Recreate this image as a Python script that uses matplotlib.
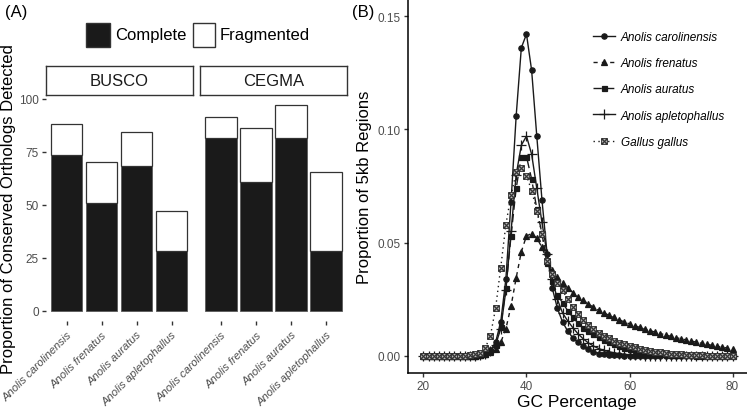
import numpy as np
import matplotlib
matplotlib.use("Agg")
import matplotlib.pyplot as plt
from matplotlib.path import Path
from matplotlib.patches import Rectangle

plt.rcParams["font.family"] = "Liberation Sans"

W, H = 747, 414

# ---------------------------------------------------------------------------
# (A) ortólogos conservados
species = ["Anolis carolinensis", "Anolis frenatus", "Anolis auratus",
           "Anolis apletophallus"]
busco_complete = [73.6, 50.6, 68.4, 28.3]
busco_total = [88.1, 70.0, 84.1, 47.2]
cegma_complete = [81.3, 60.6, 81.3, 28.3]
cegma_total = [91.2, 86.2, 97.0, 65.3]

# (B) distribuição de GC em janelas de 5kb
gc = list(range(20, 81))
carolinensis = [
    0, 0, 0, 0, 0, 0, 0, 0, 0, 0.0001,
    0.0003, 0.0006, 0.0012, 0.0025, 0.006, 0.015, 0.034, 0.068, 0.106, 0.136,
    0.142, 0.126, 0.097, 0.069, 0.045, 0.030, 0.021, 0.015, 0.011, 0.008,
    0.006, 0.0045, 0.0032, 0.0018, 0.0011, 0.0008, 0.0005, 0.0004, 0.0003, 0.0002,
    0.0002, 0.0002, 0.0001, 0.0001, 0.0001, 0.0001, 0, 0, 0, 0,
    0, 0, 0, 0, 0, 0, 0, 0, 0, 0,
    0]
frenatus = [
    0, 0, 0, 0, 0, 0, 0, 0, 0.0001, 0.0001,
    0.0002, 0.0005, 0.001, 0.0018, 0.003, 0.006, 0.012, 0.022, 0.0345, 0.046,
    0.053, 0.054, 0.052, 0.048, 0.042, 0.038, 0.035, 0.032, 0.030, 0.028,
    0.026, 0.0245, 0.023, 0.0215, 0.0202, 0.019, 0.018, 0.017, 0.016, 0.015,
    0.0142, 0.0134, 0.0126, 0.0119, 0.0112, 0.0105, 0.0099, 0.0093, 0.0087, 0.0081,
    0.0076, 0.0071, 0.0066, 0.0061, 0.0056, 0.0052, 0.0047, 0.0043, 0.0039, 0.0035,
    0.003]
auratus = [
    0, 0, 0, 0, 0, 0, 0, 0, 0, 0.0001,
    0.0002, 0.0005, 0.001, 0.002, 0.005, 0.013, 0.030, 0.053, 0.074, 0.088,
    0.088, 0.078, 0.065, 0.054, 0.041, 0.033, 0.027, 0.0235, 0.020, 0.017,
    0.0145, 0.0125, 0.011, 0.0095, 0.0082, 0.007, 0.006, 0.0051, 0.0043, 0.0036,
    0.003, 0.0025, 0.0021, 0.0017, 0.0014, 0.0011, 0.0009, 0.0007, 0.0006, 0.0005,
    0.0004, 0.0003, 0.0003, 0.0002, 0.0002, 0.0001, 0.0001, 0.0001, 0.0001, 0,
    0]
apletophallus = [
    0, 0, 0, 0, 0, 0, 0, 0, 0, 0.0001,
    0.0002, 0.0005, 0.001, 0.002, 0.005, 0.012, 0.029, 0.055, 0.080, 0.093,
    0.097, 0.089, 0.074, 0.059, 0.045, 0.034, 0.025, 0.019, 0.0155, 0.0125,
    0.0098, 0.0076, 0.0058, 0.0044, 0.0033, 0.0025, 0.0019, 0.0014, 0.001, 0.0007,
    0.0005, 0.0004, 0.0003, 0.0002, 0.0002, 0.0001, 0.0001, 0.0001, 0, 0,
    0, 0, 0, 0, 0, 0, 0, 0, 0, 0,
    0]
gallus = [
    0, 0, 0, 0, 0, 0, 0, 0, 0.0002, 0.0004,
    0.0008, 0.0015, 0.0035, 0.009, 0.021, 0.039, 0.058, 0.071, 0.081, 0.083,
    0.0795, 0.073, 0.064, 0.054, 0.042, 0.036, 0.032, 0.029, 0.025, 0.0215,
    0.0185, 0.0158, 0.0135, 0.0118, 0.0102, 0.009, 0.0078, 0.0068, 0.0059, 0.0051,
    0.0044, 0.0038, 0.0032, 0.0027, 0.0023, 0.0019, 0.0016, 0.0013, 0.0011, 0.0009,
    0.0007, 0.0006, 0.0005, 0.0004, 0.0003, 0.0002, 0.0002, 0.0001, 0.0001, 0.0001,
    0]

TXT = "#4d4d4d"
DARK = "#1a1a1a"

fig = plt.figure(figsize=(W / 100, H / 100), dpi=100)


def fax(l, t, r, b):
    """axes em coordenadas de pixel (origem no topo)."""
    return fig.add_axes([l / W, 1 - b / H, (r - l) / W, (b - t) / H])


# ---------------------------------------------------------------------------
# painel A
panels = [("BUSCO", busco_complete, busco_total, 45.7, 192.7),
          ("CEGMA", cegma_complete, cegma_total, 200.0, 347.3)]
for i, (name, comp, tot, l, r) in enumerate(panels):
    ax = fax(l, 95.8, r, 322)
    x = np.arange(1, len(species) + 1)
    comp = np.array(comp)
    frag = np.array(tot) - comp
    ax.bar(x, comp, width=0.9, color=DARK, edgecolor="#5a5a5a", linewidth=0.6)
    ax.bar(x, frag, bottom=comp, width=0.9, color="white",
           edgecolor="#333333", linewidth=0.9)
    ax.set_xlim(0.4, 4.6)
    ax.set_ylim(-4.85, 101.85)
    for s in ax.spines.values():
        s.set_visible(False)
    ax.set_xticks(x)
    ax.set_xticklabels(species, rotation=45, ha="right", va="top",
                       rotation_mode="anchor", style="italic",
                       fontsize=8.1, color=TXT)
    ax.tick_params(axis="x", length=3, width=1, color="#333333", pad=3)
    if i == 0:
        ax.set_yticks([0, 25, 50, 75, 100])
        ax.tick_params(axis="y", length=3, width=1, color="#333333",
                       labelsize=8.5, labelcolor=TXT, pad=2)
    else:
        ax.set_yticks([])
    # strip
    st = fax(l, 66.7, r, 95.7)
    st.set_xticks([]); st.set_yticks([])
    for s in st.spines.values():
        s.set_color("#333333"); s.set_linewidth(1.0)
    st.text(0.5, 0.5, name, ha="center", va="center", fontsize=12,
            color=DARK, transform=st.transAxes)

# legenda do painel A
fig.add_artist(Rectangle((86 / W, 1 - 47.7 / H), 24 / W, 23.7 / H,
                         transform=fig.transFigure, fc=DARK, ec="#333333", lw=1))
fig.text(115 / W, 1 - 36 / H, "Complete", va="center", fontsize=12)
fig.add_artist(Rectangle((192.7 / W, 1 - 47.7 / H), 22.5 / W, 23.7 / H,
                         transform=fig.transFigure, fc="white", ec="#333333", lw=1))
fig.text(220 / W, 1 - 36 / H, "Fragmented", va="center", fontsize=12)

fig.text(5 / W, 1 - 12 / H, "(A)", va="center", fontsize=12)
fig.text(9 / W, 1 - 209 / H, "Proportion of Conserved Orthologs Detected",
         rotation=90, ha="center", va="center", fontsize=12)

# ---------------------------------------------------------------------------
# painel B
crossed = Path([(-1, -1), (1, -1), (1, 1), (-1, 1), (-1, -1),
                (-1, -1), (1, 1), (-1, 1), (1, -1)],
               [Path.MOVETO, Path.LINETO, Path.LINETO, Path.LINETO, Path.CLOSEPOLY,
                Path.MOVETO, Path.LINETO, Path.MOVETO, Path.LINETO])

series = [
    ("Anolis carolinensis", carolinensis, "-", "o", 3.8, DARK, DARK),
    ("Anolis frenatus", frenatus, (0, (3, 3)), "^", 4.5, DARK, DARK),
    ("Anolis auratus", auratus, (0, (6, 3)), "s", 3.6, DARK, DARK),
    ("Anolis apletophallus", apletophallus, "-", "+", 7, DARK, DARK),
    ("Gallus gallus", gallus, (0, (1, 2.5)), crossed, 4, "white", "#333333"),
]

axb = fax(408, 0, 748, 374)
handles = []
for name, y, ls, mk, ms, mfc, mec in series:
    h, = axb.plot(gc, y, linestyle=ls, color=DARK, linewidth=1.0,
                  marker=mk, markersize=ms, markerfacecolor=mfc,
                  markeredgecolor=mec, markeredgewidth=0.9, label=name)
    handles.append(h)

axb.set_xlim(17, 83)
axb.set_ylim(-0.0075, 0.1575)
axb.spines["top"].set_visible(False)
axb.spines["right"].set_visible(False)
for s in ("left", "bottom"):
    axb.spines[s].set_linewidth(1.1)
    axb.spines[s].set_color("black")
axb.set_xticks([20, 40, 60, 80])
axb.set_yticks([0, 0.05, 0.10, 0.15])
axb.set_yticklabels(["0.00", "0.05", "0.10", "0.15"])
axb.tick_params(length=3, width=1, color="#333333", labelsize=8.5,
                labelcolor=TXT, pad=2)

axb.legend(handles=handles, loc="upper left",
           bbox_to_anchor=(593 / W, 1 - 32 / H), bbox_transform=fig.transFigure,
           frameon=False, prop={"style": "italic", "size": 8.5},
           handlelength=1.9, handletextpad=0.45, labelspacing=1.2,
           borderpad=0, borderaxespad=0)

fig.text(352 / W, 1 - 12 / H, "(B)", va="center", fontsize=12)
fig.text(577 / W, 1 - 403 / H, "GC Percentage", ha="center", va="center",
         fontsize=12.5)
fig.text(365 / W, 1 - 187 / H, "Proportion of 5kb Regions", rotation=90,
         ha="center", va="center", fontsize=12)

fig.savefig("out.png", dpi=100)
